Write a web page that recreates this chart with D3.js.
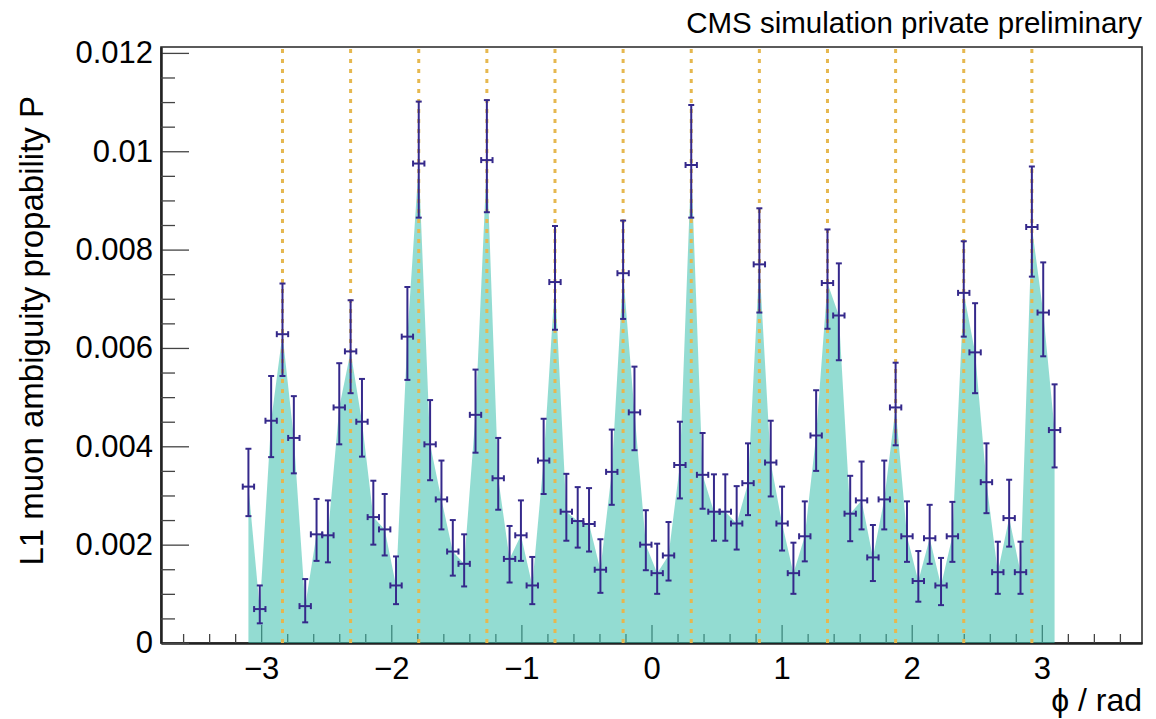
<!DOCTYPE html>
<html>
<head>
<meta charset="utf-8">
<script src="https://cdn.jsdelivr.net/npm/d3@7"></script>
<style>
  body { margin: 0; background: #fff; }
  svg { display: block; }
  text { font-family: "Liberation Sans", Arial, Helvetica, sans-serif; fill: #000; }
</style>
</head>
<body>
<svg id="chart" width="1156" height="719"></svg>
<script>
// phi bin centres (72 bins over [-pi, pi])
const phiCenters = [
  -3.0980,-3.0107,-2.9234,-2.8362,-2.7489,-2.6616,-2.5744,-2.4871,-2.3998,-2.3126,
  -2.2253,-2.1380,-2.0508,-1.9635,-1.8762,-1.7890,-1.7017,-1.6144,-1.5272,-1.4399,
  -1.3526,-1.2654,-1.1781,-1.0908,-1.0036,-0.9163,-0.8290,-0.7418,-0.6545,-0.5672,
  -0.4800,-0.3927,-0.3054,-0.2182,-0.1309,-0.0436, 0.0436, 0.1309, 0.2182, 0.3054,
   0.3927, 0.4800, 0.5672, 0.6545, 0.7418, 0.8290, 0.9163, 1.0036, 1.0908, 1.1781,
   1.2654, 1.3526, 1.4399, 1.5272, 1.6144, 1.7017, 1.7890, 1.8762, 1.9635, 2.0508,
   2.1380, 2.2253, 2.3126, 2.3998, 2.4871, 2.5744, 2.6616, 2.7489, 2.8362, 2.9234,
   3.0107, 3.0980
];
const binHalfWidth = 0.04363;

// ambiguity probability per phi bin
const ambiguityProb = [
  0.00318,0.00069,0.00452,0.00628,0.00417,0.00075,0.00221,0.00219,0.00479,0.00593,
  0.00450,0.00256,0.00231,0.00117,0.00623,0.00975,0.00404,0.00292,0.00186,0.00161,
  0.00464,0.00982,0.00335,0.00171,0.00219,0.00117,0.00371,0.00734,0.00267,0.00248,
  0.00242,0.00149,0.00348,0.00752,0.00469,0.00200,0.00142,0.00178,0.00362,0.00972,
  0.00342,0.00267,0.00267,0.00243,0.00325,0.00770,0.00367,0.00243,0.00142,0.00217,
  0.00422,0.00732,0.00666,0.00263,0.00290,0.00174,0.00292,0.00479,0.00217,0.00126,
  0.00213,0.00117,0.00217,0.00712,0.00591,0.00327,0.00144,0.00254,0.00144,0.00846,
  0.00672,0.00433
];

// asymmetric uncertainties (upper / lower)
const errUp = [
  0.00077,0.00048,0.00091,0.00103,0.00085,0.00055,0.00072,0.00071,0.00090,0.00104,
  0.00087,0.00074,0.00072,0.00059,0.00101,0.00126,0.00090,0.00079,0.00064,0.00060,
  0.00092,0.00122,0.00082,0.00067,0.00071,0.00058,0.00085,0.00114,0.00077,0.00069,
  0.00073,0.00062,0.00086,0.00107,0.00093,0.00070,0.00060,0.00068,0.00088,0.00122,
  0.00085,0.00076,0.00076,0.00076,0.00081,0.00114,0.00085,0.00075,0.00062,0.00071,
  0.00092,0.00109,0.00106,0.00077,0.00079,0.00066,0.00079,0.00091,0.00071,0.00061,
  0.00068,0.00056,0.00070,0.00105,0.00100,0.00079,0.00062,0.00078,0.00062,0.00123,
  0.00102,0.00093
];
const errDown = [
  0.00060,0.00029,0.00074,0.00085,0.00072,0.00033,0.00054,0.00055,0.00075,0.00085,
  0.00071,0.00056,0.00053,0.00038,0.00088,0.00110,0.00073,0.00061,0.00049,0.00046,
  0.00077,0.00106,0.00064,0.00048,0.00052,0.00038,0.00068,0.00097,0.00059,0.00054,
  0.00056,0.00047,0.00067,0.00093,0.00077,0.00052,0.00042,0.00051,0.00068,0.00107,
  0.00069,0.00059,0.00059,0.00053,0.00065,0.00098,0.00069,0.00055,0.00042,0.00051,
  0.00072,0.00093,0.00091,0.00056,0.00059,0.00048,0.00061,0.00077,0.00052,0.00042,
  0.00052,0.00040,0.00052,0.00089,0.00083,0.00063,0.00044,0.00058,0.00044,0.00101,
  0.00089,0.00076
];

// sector boundaries drawn as dashed guides
const sectorEdges = [-2.8362,-2.3126,-1.7890,-1.2654,-0.7418,-0.2182,0.3054,0.8290,1.3526,1.8762,2.3998,2.9234];

const xTickValues = [-3,-2,-1,0,1,2,3];
const xMinorTicks = [-3.6,-3.4,-3.2,-2.8,-2.6,-2.4,-2.2,-1.8,-1.6,-1.4,-1.2,-0.8,-0.6,-0.4,-0.2,
                     0.2,0.4,0.6,0.8,1.2,1.4,1.6,1.8,2.2,2.4,2.6,2.8,3.2,3.4,3.6];
const yTickValues = [0,0.002,0.004,0.006,0.008,0.01,0.012];
const yTickLabels = ["0","0.002","0.004","0.006","0.008","0.01","0.012"];
const yMinorTicks = [0.0005,0.001,0.0015,0.0025,0.003,0.0035,0.0045,0.005,0.0055,0.0065,0.007,0.0075,
                     0.0085,0.009,0.0095,0.0105,0.011,0.0115];

const frame = { left: 161, right: 1142, top: 47, bottom: 643 };

const svg = d3.select("#chart");
const x = d3.scaleLinear().domain([-1.2 * Math.PI, 1.2 * Math.PI]).range([frame.left, frame.right]);
const y = d3.scaleLinear().domain([0, 0.01212]).range([frame.bottom, frame.top]);

const points = phiCenters.map((p, i) => ({ phi: p, v: ambiguityProb[i], up: errUp[i], dn: errDown[i] }));

// frame box
svg.append("rect")
  .attr("x", frame.left).attr("y", frame.top)
  .attr("width", frame.right - frame.left).attr("height", frame.bottom - frame.top)
  .attr("fill", "none").attr("stroke", "#333").attr("stroke-width", 1.6);

// x axis: major ticks + labels, minor ticks
const gx = svg.append("g").attr("transform", `translate(0,${frame.bottom})`);
gx.call(d3.axisBottom(x).tickValues(xTickValues).tickSizeInner(-18).tickSizeOuter(0).tickPadding(14)
  .tickFormat(d3.format("d")));
gx.append("g").call(d3.axisBottom(x).tickValues(xMinorTicks).tickSizeInner(-9).tickSizeOuter(0).tickFormat(""));
gx.selectAll(".domain").attr("stroke", "#222").attr("stroke-width", 2);
gx.selectAll(".tick line").attr("stroke", "#444").attr("stroke-width", 1.3);
gx.selectAll(".tick text").attr("font-size", 31).attr("font-family", "Liberation Sans, Arial, sans-serif").attr("fill", "#000");

// y axis
const gy = svg.append("g").attr("transform", `translate(${frame.left},0)`);
gy.call(d3.axisLeft(y).tickValues(yTickValues).tickSizeInner(-28).tickSizeOuter(0).tickPadding(8)
  .tickFormat((d, i) => yTickLabels[i]));
gy.append("g").call(d3.axisLeft(y).tickValues(yMinorTicks).tickSizeInner(-14).tickSizeOuter(0).tickFormat(""));
gy.selectAll(".domain").attr("stroke", "#222").attr("stroke-width", 2);
gy.selectAll(".tick line").attr("stroke", "#444").attr("stroke-width", 1.3);
gy.selectAll(".tick text").attr("font-size", 31).attr("font-family", "Liberation Sans, Arial, sans-serif").attr("fill", "#000");

// filled probability profile
const area = d3.area()
  .x(d => x(d.phi))
  .y0(y(0))
  .y1(d => y(d.v));
svg.append("path")
  .datum(points)
  .attr("d", area)
  .attr("fill", "#3bbfad")
  .attr("fill-opacity", 0.55);

// dashed sector boundaries
svg.append("g").selectAll("line")
  .data(sectorEdges)
  .join("line")
  .attr("x1", d => x(d)).attr("x2", d => x(d))
  .attr("y1", y(0)).attr("y2", frame.top)
  .attr("stroke", "#e6b84f")
  .attr("stroke-width", 3)
  .attr("stroke-dasharray", "4 6");

// error bars with end caps
const ink = "#35298b";
const eb = svg.append("g").attr("stroke", ink).attr("stroke-width", 2).attr("fill", "none");
const cap = 3;
points.forEach(d => {
  const cx = x(d.phi), cy = y(d.v);
  const yt = y(d.v + d.up), yb = y(d.v - d.dn);
  const xl = x(d.phi - binHalfWidth), xr = x(d.phi + binHalfWidth);
  eb.append("line").attr("x1", cx).attr("x2", cx).attr("y1", yt).attr("y2", yb);
  eb.append("line").attr("x1", cx - cap).attr("x2", cx + cap).attr("y1", yt).attr("y2", yt);
  eb.append("line").attr("x1", cx - cap).attr("x2", cx + cap).attr("y1", yb).attr("y2", yb);
  eb.append("line").attr("x1", xl).attr("x2", xr).attr("y1", cy).attr("y2", cy);
  eb.append("line").attr("x1", xl).attr("x2", xl).attr("y1", cy - cap).attr("y2", cy + cap);
  eb.append("line").attr("x1", xr).attr("x2", xr).attr("y1", cy - cap).attr("y2", cy + cap);
});

// texts
svg.append("text")
  .attr("x", frame.right).attr("y", 33)
  .attr("text-anchor", "end").attr("font-size", 29.5)
  .text("CMS simulation private preliminary");

svg.append("text")
  .attr("x", frame.right).attr("y", 711)
  .attr("text-anchor", "end").attr("font-size", 32)
  .text("ϕ / rad");

svg.append("text")
  .attr("transform", `translate(43,96) rotate(-90)`)
  .attr("text-anchor", "end").attr("font-size", 33)
  .text("L1 muon ambiguity propability P");
</script>
</body>
</html>
